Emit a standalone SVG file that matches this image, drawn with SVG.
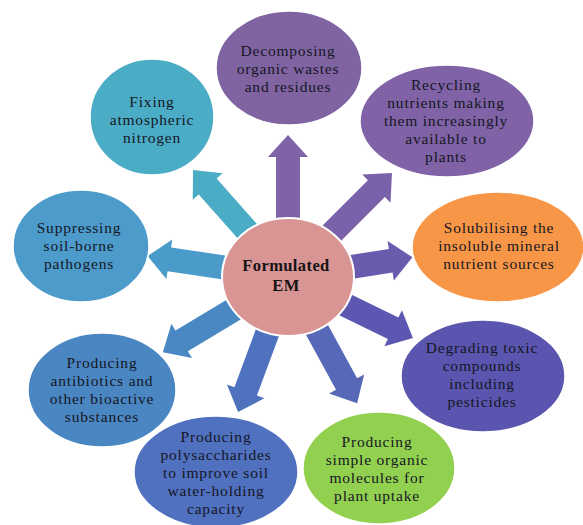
<svg xmlns="http://www.w3.org/2000/svg" width="583" height="525" viewBox="0 0 583 525">
<style>
.lbl{font-family:'Liberation Serif','DejaVu Serif',serif;font-size:15.5px;letter-spacing:0.8px;fill:#161624;text-anchor:middle}
.ctr{font-family:'Liberation Serif','DejaVu Serif',serif;font-size:16.5px;letter-spacing:0.4px;font-weight:bold;fill:#141414;text-anchor:middle}
.nd{stroke:#ffffff;stroke-width:1.5}
</style>
<rect width="583" height="525" fill="#ffffff"/>
<g id="connectors">
<polygon fill="#4BACC6" transform="translate(288,277) rotate(228.4)" points="40,-12 121,-12 121,-20 143,0 121,20 121,12 40,12"/>
<polygon fill="#7E64A6" transform="translate(288,277) rotate(-90)" points="40,-12 120,-12 120,-20 142,0 120,20 120,12 40,12"/>
<polygon fill="#7A61A9" transform="translate(288,277) rotate(-45)" points="40,-12 125,-12 125,-20 147,0 125,20 125,12 40,12"/>
<polygon fill="#6B5BAE" transform="translate(288,277) rotate(-9)" points="40,-12 104,-12 104,-20 126,0 104,20 104,12 40,12"/>
<polygon fill="#5C57B0" transform="translate(288,277) rotate(26)" points="40,-12 117,-12 117,-20 139,0 117,20 117,12 40,12"/>
<polygon fill="#5868B8" transform="translate(288,277) rotate(61.3)" points="40,-12 122,-12 122,-20 144,0 122,20 122,12 40,12"/>
<polygon fill="#4F72BF" transform="translate(288,277) rotate(110.3)" points="40,-12 122,-12 122,-20 144,0 122,20 122,12 40,12"/>
<polygon fill="#4A88C3" transform="translate(288,277) rotate(149)" points="40,-12 124,-12 124,-20 146,0 124,20 124,12 40,12"/>
<polygon fill="#4B9BCA" transform="translate(288,277) rotate(188.5)" points="40,-12 120,-12 120,-20 142,0 120,20 120,12 40,12"/>
</g>
<g id="n-decomposing">
<ellipse class="nd" cx="289" cy="68" rx="73" ry="57" fill="#8064A2"/>
<text class="lbl" x="288" y="56">Decomposing</text>
<text class="lbl" x="288" y="74">organic wastes</text>
<text class="lbl" x="288" y="92">and residues</text>
</g>
<g id="n-recycling">
<ellipse class="nd" cx="447" cy="121" rx="87" ry="56" fill="#7F63A6"/>
<text class="lbl" x="446" y="90">Recycling</text>
<text class="lbl" x="446" y="108">nutrients making</text>
<text class="lbl" x="446" y="126">them increasingly</text>
<text class="lbl" x="446" y="144">available to</text>
<text class="lbl" x="446" y="162">plants</text>
</g>
<g id="n-solubilising">
<ellipse class="nd" cx="498" cy="247" rx="86" ry="55" fill="#F79646"/>
<text class="lbl" x="499" y="233">Solubilising the</text>
<text class="lbl" x="499" y="251">insoluble mineral</text>
<text class="lbl" x="499" y="269">nutrient sources</text>
</g>
<g id="n-degrading">
<ellipse class="nd" cx="483" cy="376" rx="82" ry="56" fill="#5A55AF"/>
<text class="lbl" x="482" y="353">Degrading toxic</text>
<text class="lbl" x="482" y="371">compounds</text>
<text class="lbl" x="482" y="389">including</text>
<text class="lbl" x="482" y="407">pesticides</text>
</g>
<g id="n-simple">
<ellipse class="nd" cx="379" cy="468" rx="76" ry="56" fill="#92D050"/>
<text class="lbl" x="377" y="447">Producing</text>
<text class="lbl" x="377" y="465">simple organic</text>
<text class="lbl" x="377" y="483">molecules for</text>
<text class="lbl" x="377" y="501">plant uptake</text>
</g>
<g id="n-polysaccharides">
<ellipse class="nd" cx="216" cy="472" rx="82" ry="56" fill="#5070C0"/>
<text class="lbl" x="216" y="442">Producing</text>
<text class="lbl" x="216" y="460">polysaccharides</text>
<text class="lbl" x="216" y="478">to improve soil</text>
<text class="lbl" x="216" y="496">water-holding</text>
<text class="lbl" x="216" y="514">capacity</text>
</g>
<g id="n-antibiotics">
<ellipse class="nd" cx="102" cy="390" rx="74" ry="57" fill="#4A86C2"/>
<text class="lbl" x="102" y="368">Producing</text>
<text class="lbl" x="102" y="386">antibiotics and</text>
<text class="lbl" x="102" y="404">other bioactive</text>
<text class="lbl" x="102" y="422">substances</text>
</g>
<g id="n-suppressing">
<ellipse class="nd" cx="81" cy="246" rx="68" ry="56" fill="#4C9BCB"/>
<text class="lbl" x="79" y="233">Suppressing</text>
<text class="lbl" x="79" y="251">soil-borne</text>
<text class="lbl" x="79" y="269">pathogens</text>
</g>
<g id="n-fixing">
<ellipse class="nd" cx="152" cy="117" rx="62" ry="58" fill="#4BACC6"/>
<text class="lbl" x="152" y="107">Fixing</text>
<text class="lbl" x="152" y="125">atmospheric</text>
<text class="lbl" x="152" y="143">nitrogen</text>
</g>
<g id="n-center">
<ellipse cx="288" cy="277" rx="66" ry="59" fill="#D99594" stroke="#ffffff" stroke-width="2"/>
<text class="ctr" x="286" y="271">Formulated</text>
<text class="ctr" x="286" y="291">EM</text>
</g>
</svg>
